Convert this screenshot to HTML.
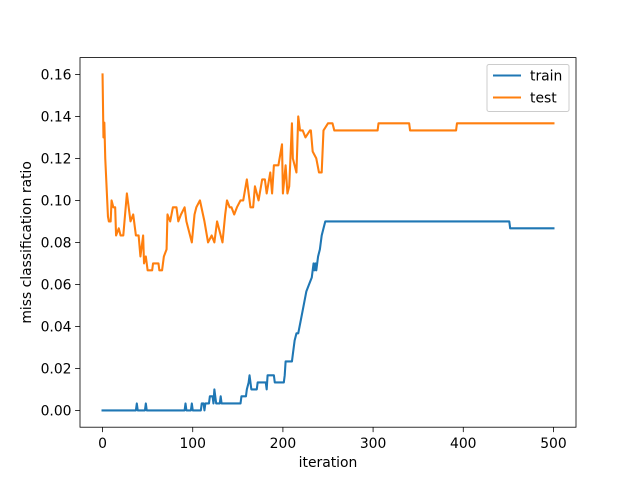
<!DOCTYPE html>
<html><head><meta charset="utf-8"><style>body{margin:0;background:#fff}svg{display:block;font-family:"DejaVu Sans","Liberation Sans",sans-serif}</style></head>
<body>
<svg id="chart" width="640" height="480" xmlns="http://www.w3.org/2000/svg"></svg>
<script>
const xTicks=[0,100,200,300,400,500];
const yTicks=[0,0.02,0.04,0.06,0.08,0.10,0.12,0.14,0.16];
const yTickLabels=["0.00","0.02","0.04","0.06","0.08","0.10","0.12","0.14","0.16"];
const trainIter=[0,37,38,39,47,48,49,91,92,93,98,99,100,109,110,112,113,114,118,119,122,123,124,126,130,131,132,134,153,154,159,160,162,163,165,167,171,172,181,182,183,190,191,201,202,203,210,211,213,215,217,220,223,226,229,232,234,235,236,237,238,239,241,243,245,247,451,452,500];
const trainVal=[0,0,0.0033,0,0,0.0033,0,0,0.0033,0,0,0.0033,0,0,0.0033,0.0033,0,0.0033,0.0033,0.0067,0.0067,0.0033,0.01,0.0033,0.0033,0.0067,0.0033,0.0033,0.0033,0.0067,0.0067,0.01,0.0133,0.0167,0.01,0.01,0.01,0.0133,0.0133,0.01,0.0167,0.0167,0.0133,0.0133,0.0167,0.0233,0.0233,0.0267,0.0333,0.0367,0.0367,0.0433,0.05,0.0567,0.06,0.0633,0.07,0.0667,0.07,0.0667,0.07,0.0733,0.0767,0.0833,0.0867,0.09,0.09,0.0867,0.0867];
const testIter=[0,1,2,3,6,7,9,10,12,14,15,18,20,23,27,31,34,37,40,42,45,46,48,50,55,56,62,63,66,68,71,72,75,78,82,84,87,91,93,99,102,104,108,113,117,121,124,127,133,136,138,141,143,146,149,153,156,160,164,167,169,173,177,180,182,186,188,190,195,199,200,203,205,207,210,211,215,217,219,222,225,230,231,233,237,240,243,245,250,255,257,305,306,340,341,392,393,500];
const testVal=[0.16,0.13,0.137,0.12,0.0923,0.09,0.09,0.1,0.0967,0.0967,0.0833,0.0867,0.0833,0.0833,0.1033,0.09,0.0933,0.0833,0.0833,0.0733,0.0833,0.07,0.0733,0.0667,0.0667,0.07,0.07,0.0667,0.0667,0.0733,0.0767,0.0933,0.09,0.0967,0.0967,0.09,0.0933,0.0967,0.09,0.08,0.0933,0.0967,0.1,0.09,0.08,0.0833,0.08,0.09,0.08,0.0933,0.1,0.0967,0.0967,0.0933,0.0967,0.1,0.1,0.11,0.0967,0.0967,0.1067,0.1,0.11,0.11,0.1033,0.1133,0.1033,0.1167,0.1167,0.1267,0.1033,0.1167,0.1033,0.1067,0.1367,0.12,0.1133,0.14,0.1333,0.1333,0.13,0.1333,0.1333,0.1233,0.12,0.1133,0.1133,0.1333,0.1367,0.1367,0.1333,0.1333,0.1367,0.1367,0.1333,0.1333,0.1367,0.1367];
const L=80,R=576,T=57.6,B=427.2,x0=-25,x1=525,y0=-0.008,y1=0.168;
const sx=v=>L+(v-x0)/(x1-x0)*(R-L);
const sy=v=>B-(v-y0)/(y1-y0)*(B-T);
const svg=document.getElementById('chart');
const NS='http://www.w3.org/2000/svg';
const FS=13.9;
function el(t,a,p){const e=document.createElementNS(NS,t);for(const k in a)e.setAttribute(k,a[k]);(p||svg).appendChild(e);return e;}
function line(xs,ys,color,name){const d=xs.map((x,i)=>(i?'L':'M')+sx(x).toFixed(2)+' '+sy(ys[i]).toFixed(2)).join(' ');
const p=el('path',{d:d,fill:'none',stroke:color,'stroke-width':2.08,'stroke-linejoin':'round','stroke-linecap':'square'});

}
line(trainIter,trainVal,'#1f77b4','train-line');
line(testIter,testVal,'#ff7f0e','test-line');
const frame=el('rect',{x:L,y:T,width:R-L,height:B-T,fill:'none',stroke:'#000','stroke-width':0.8});


xTicks.forEach(v=>{const x=sx(v);el('line',{x1:x,x2:x,y1:B,y2:B+4.9,stroke:'#000','stroke-width':0.8});
const t=el('text',{x:x,y:B+21,'text-anchor':'middle','font-size':FS});t.textContent=v;

});
yTicks.forEach((v,i)=>{const y=sy(v);el('line',{x1:L,x2:L-4.9,y1:y,y2:y,stroke:'#000','stroke-width':0.8});
const t=el('text',{x:L-8.5,y:y+5,'text-anchor':'end','font-size':FS});t.textContent=yTickLabels[i];

});
const xt=el('text',{x:(L+R)/2,y:467,'text-anchor':'middle','font-size':FS});xt.textContent='iteration';


const yt=el('text',{x:0,y:0,'text-anchor':'middle','font-size':FS,transform:'translate(31,'+((T+B)/2)+') rotate(-90)'});yt.textContent='miss classification ratio';


const lg=el('g',{});


el('rect',{x:487,y:64.5,width:82,height:47,rx:2,fill:'#fff',stroke:'#ccc','stroke-width':1},lg);
[['train','#1f77b4',75.5],['test','#ff7f0e',97.5]].forEach(([n,c,y])=>{
el('line',{x1:493,x2:521,y1:y,y2:y,stroke:c,'stroke-width':2.08},lg);
const t=el('text',{x:530,y:y+5,'font-size':FS},lg);t.textContent=n;

});
</script>
</body></html>
